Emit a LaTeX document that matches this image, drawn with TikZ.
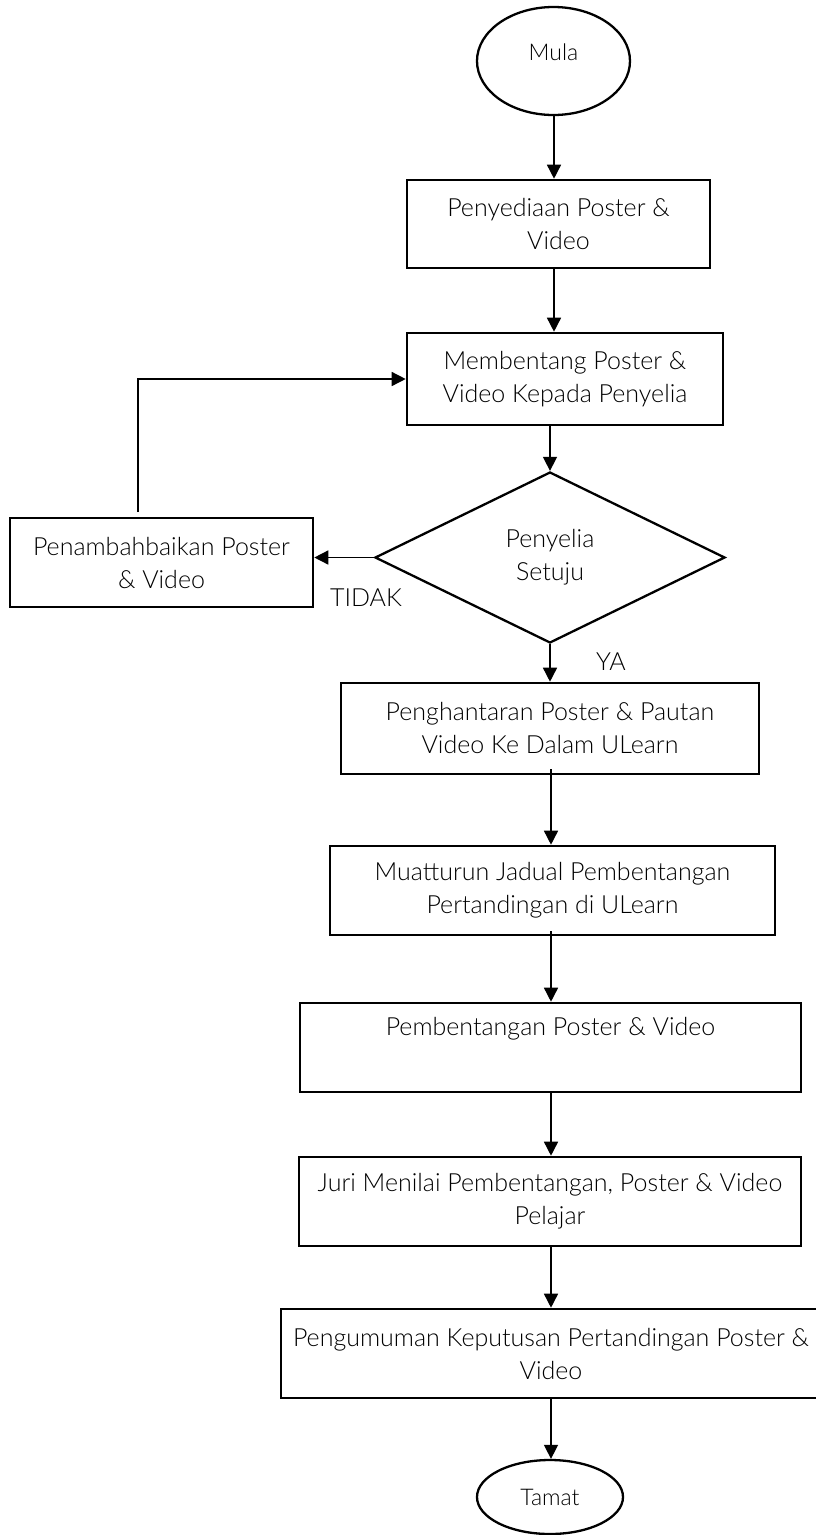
\documentclass[tikz,border=0pt]{standalone}
\usepackage{fontspec}
\setmainfont{Lato}[UprightFont=* Light]
\usetikzlibrary{shapes.geometric,arrows.meta}
\begin{document}
\begin{tikzpicture}[x=1pt,y=-1pt,
  every node/.style={font=\fontsize{25}{33}\selectfont},
  procbox/.style={draw,line width=2.6pt,rectangle,inner sep=0pt,align=center},
  termnode/.style={draw,line width=2.3pt,ellipse,inner sep=0pt},
  decision/.style={draw,line width=2.3pt,diamond,inner sep=0pt,align=center},
  arr/.style={line width=1.5pt,-{Triangle[length=14pt,width=14pt]}},
  lbl/.style={inner sep=0pt},
  termtext/.style={inner sep=0pt,font=\fontsize{23}{30}\selectfont}]
\useasboundingbox[fill=white] (0,0) rectangle (816,1535);
% terminals
\node[termnode,minimum width=153pt,minimum height=108pt] (mula) at (553.5,61) {};
\node[termtext] (mulatext) at (553.5,52) {Mula};
\node[termnode,minimum width=146pt,minimum height=74pt] (tamat) at (550,1497) {};
\node[termtext] (tamattext) at (550,1497) {Tamat};
% process boxes
\node[procbox,minimum width=303pt,minimum height=88pt] (b1) at (558.5,224) {Penyediaan Poster \&\\Video};
\node[procbox,minimum width=316pt,minimum height=92pt] (b2) at (565,379) {Membentang Poster \&\\Video Kepada Penyelia};
\node[decision,minimum width=350pt,minimum height=171pt] (dec) at (550,557.5) {Penyelia\\Setuju};
\node[procbox,minimum width=303pt,minimum height=89pt] (b3) at (161.5,562.5) {Penambahbaikan Poster\\\& Video};
\node[procbox,minimum width=418pt,minimum height=91pt] (b4) at (550,728.5) {Penghantaran Poster \& Pautan\\Video Ke Dalam ULearn};
\node[procbox,minimum width=445pt,minimum height=89pt] (b5) at (552.5,890.5) {Muatturun Jadual Pembentangan\\Pertandingan di ULearn};
\node[procbox,minimum width=501pt,minimum height=89pt] (b6) at (550.5,1047.5) {Pembentangan Poster \& Video\\\strut};
\node[procbox,minimum width=502pt,minimum height=89pt] (b7) at (550,1201.5) {Juri Menilai Pembentangan, Poster \& Video\\Pelajar};
\node[procbox,minimum width=540pt,minimum height=89pt] (b8) at (551,1353.5) {Pengumuman Keputusan Pertandingan Poster \&\\Video};
% labels
\node[lbl] (tidak) at (366,598) {TIDAK};
\node[lbl] (ya) at (611,662) {YA};
% coordinates
\coordinate (c1) at (554,0);
\coordinate (c2) at (550,0);
\coordinate (c3) at (551,0);
\coordinate (fb) at (138,512);
% connectors
\draw[arr] (mula.south -| c1) -- (b1.north -| c1);
\draw[arr] (b1.south -| c1) -- (b2.north -| c1);
\draw[arr] (b2.south -| c2) -- (dec.north);
\draw[arr] (dec.west) -- (b3.east |- dec.west);
\draw[arr] (fb) -- (fb |- b2.west) -- (b2.west);
\draw[arr] (dec.south) -- (b4.north -| c2);
\draw[arr] ([yshift=6pt]b4.south -| c3) -- (b5.north -| c3);
\draw[arr] ([yshift=5pt]b5.south -| c3) -- (b6.north -| c3);
\draw[arr] (b6.south -| c3) -- (b7.north -| c3);
\draw[arr] (b7.south -| c3) -- (b8.north -| c3);
\draw[arr] (b8.south -| c3) -- (tamat.north -| c3);
\end{tikzpicture}
\end{document}
